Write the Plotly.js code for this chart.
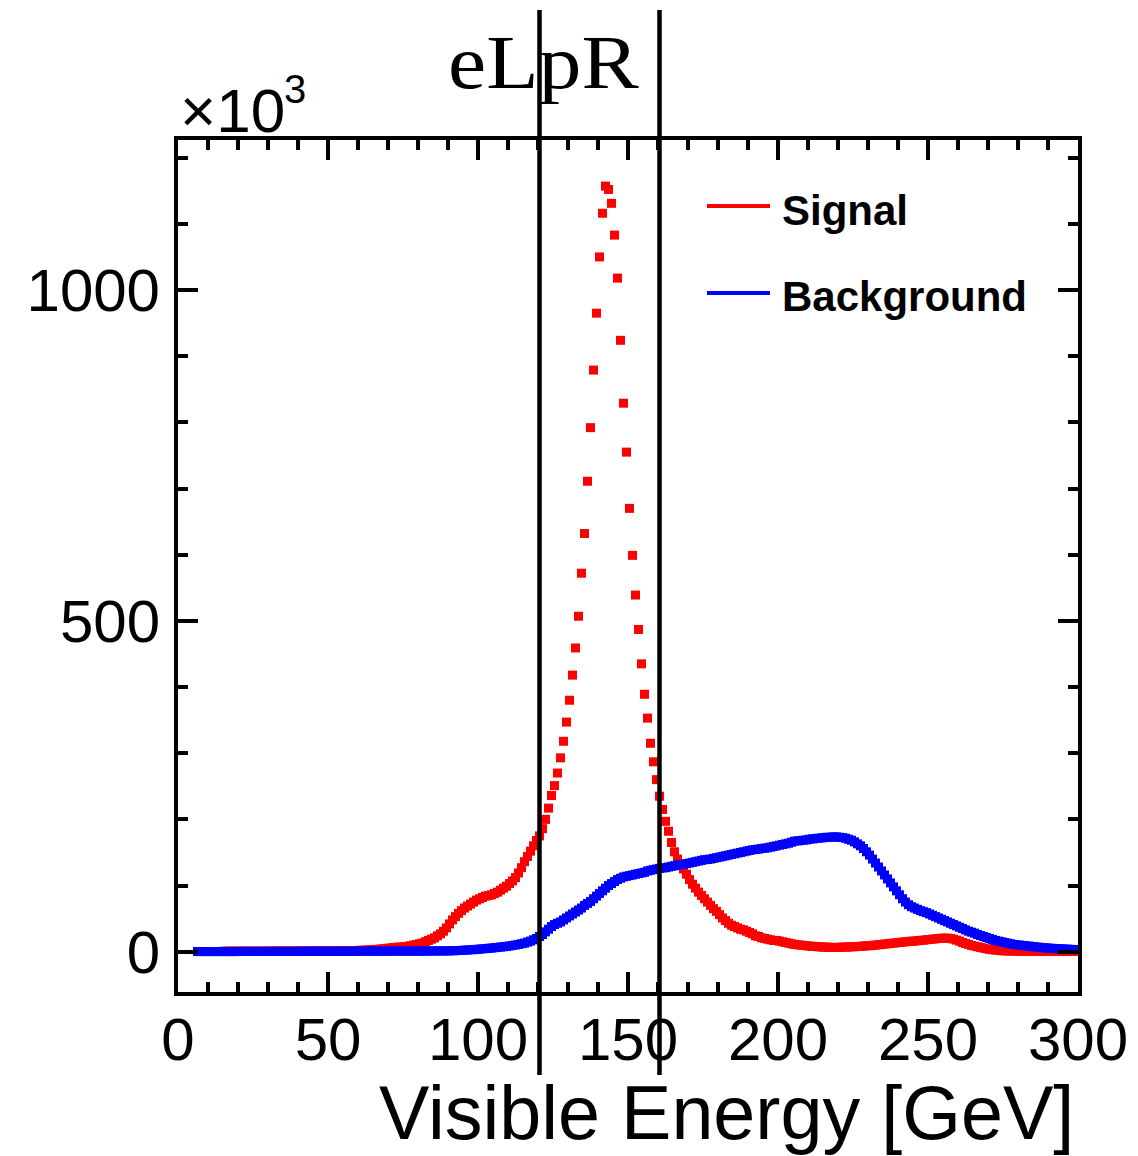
<!DOCTYPE html>
<html><head><meta charset="utf-8">
<script src="https://cdn.plot.ly/plotly-3.0.1.min.js"></script>
<style>html,body{margin:0;padding:0;background:#fff}</style>
</head><body>
<div id="chart" style="width:1138px;height:1156px"></div>
<script>
// 1 GeV bins; first filled bin is [6,7] GeV. Values in units of 10^3 events.
const firstBin = 6;
const binWidth = 1;

const signal = [
  0.3,0.3,0.3,0.3,0.3,0.3,0.3,0.3,0.3,
  0.8,0.8,0.8,0.8,0.8,0.8,0.8,0.8,0.8,0.8,0.8,0.8,0.8,0.8,0.8,
  1.0,1.0,1.0,1.0,1.0,1.0,1.0,1.0,1.0,1.0,1.0,1.0,1.0,1.0,1.0,
  1.2,1.2,1.2,1.2,1.2,1.2,1.2,1.2,1.2,1.2,
  1.6,1.6,1.6,1.6,1.6,
  2.2,2.2,2.4,2.6,2.8,
  3,3.5,4,4.5,5,
  5.5,6,6.5,7,7,
  7.5,8,9,10,11,
  12,13,15,17,19,
  21,24,27,31,36,
  42,48,53,58,62,
  66,69,72,75,78,
  80,82,84,85,86,
  88,90,93,96,99,
  103,107,112,119,127,
  136,144,152,160,168,
  175,186,200,217,236,251,270,293,318,347,
  380,418,459,507,572,632,711,792,879,965,
  1050,1116,1157,1152,1131,1083,1018,924,829,755,
  670,599,539,487,435,389,353,315,287,260,
  235,215,197,182,165,151,140,133,125,117,
  109,102,96,90,85,80,75,70,65,61,
  56,51,47,43,40,38,36,34,33,31,
  29,27,24,23,21,20,19,18,17,17,
  16,15,14,13,12,11,10.5,10,9.5,9,
  8.5,8,8,7.5,7,7,7,6.5,6.5,6.5,
  6.5,7,7,7,7.5,7.5,8,8,8.5,9,
  9,9.5,10,10.5,11,11.5,12,12.5,13,13.5,
  14,14.5,15,15.5,16,16,16.5,17,17.5,18,
  18.5,19,19.5,20,20.5,20.5,20.5,20,19,17.5,
  16,14,12.5,11,9.5,8.5,7.5,6.5,5.5,4.5,
  3.5,3,2.5,2,1.5,1.3,1.2,1.1,1,0.9,
  0.8,0.8,0.7,0.7,0.6,0.6,0.5,0.5,0.5,0.5,
  0.4,0.4,0.4,0.4,0.4,0.4,0.4,0.4,0.4,0.4
];

const background = [
  0.2,0.2,0.2,0.2,0.2,0.2,0.2,0.2,0.2,0.2,0.2,0.2,0.2,0.2,
  0.4,0.4,0.4,0.4,0.4,0.4,0.4,0.4,0.4,0.4,0.4,0.4,0.4,0.4,0.4,0.4,0.4,0.4,0.4,0.4,
  0.6,0.6,0.6,0.6,0.6,0.6,0.6,0.6,0.6,0.6,0.6,0.6,0.6,0.6,0.6,0.6,0.6,0.6,0.6,0.6,
  0.8,0.8,0.8,0.8,0.8,0.8,0.8,0.8,0.8,0.8,
  1.0,1.0,1.0,1.0,1.0,1.0,1.0,1.0,1.0,1.0,
  1.0,1.0,1.0,1.05,1.1,1.1,1.1,1.15,1.2,1.2,
  1.3,1.4,1.6,1.8,2.0,2.3,2.6,2.9,3.2,3.5,
  3.9,4.3,4.7,5.1,5.5,6,6.5,7,7.5,8,
  8.7,9.4,10.2,11,12,13,14.5,16,18,20,
  23,26,30,34,38,41,43,45,48,51,
  54,57,60,63,66,70,73,76,80,84,
  88,92,96,100,103,106,109,111,113,114,
  115,116,117,118,119,120,122,123,124,125,
  126,126.5,127,128,129,130,131,131.5,132,133,
  134,135,136,137,138,139,139.5,140,141,142,
  143,144,145,146,147,148,149,150,151,152,
  153,154,154.5,155,156,156.5,157,158,159,160,
  161,162,163,164,165.5,167,167.5,168,168.5,169,
  170,170.5,171,171.5,172,172.5,173,173,173.5,173.5,
  173,172.5,171.5,170,168.5,166,163,160,156,151,
  146,140,134,128,122,116,110,104,98,92,
  86,80,75,71,68,66,64,62,60.5,59,
  57,55,53,51,49,47,45,43,41,39,
  37,35,33,31,29.5,28,26,24.5,23,21.5,
  20,18.5,17,16,15,14,13,12,11,10.5,
  10,9.5,9,8.5,8,7.5,7,6.5,6,5.7,
  5.4,5.1,4.8,4.5,4.2,4,3.8,3.6,3.4,3.2
];

const cutValues = [120.5, 160.5];
const seriesNames = ["Signal", "Background"];
const seriesColors = ["#ff0000", "#0000ff"];
const plotTitle = "eLpR";
const xTitle = "Visible Energy [GeV]";
const yExponent = "×10";
const yExponentPower = "3";

function centers(arr) {
  return arr.map((_, i) => firstBin + (i + 0.5) * binWidth);
}

const traces = [
  {x: centers(signal), y: signal, name: seriesNames[0], type: 'scatter', mode: 'markers',
   marker: {symbol: 'square', size: 9, color: seriesColors[0], line: {width: 0}}, showlegend: false},
  {x: centers(background), y: background, name: seriesNames[1], type: 'scatter', mode: 'markers',
   marker: {symbol: 'square', size: 9, color: seriesColors[1], line: {width: 0}}, showlegend: false}
];

const sans = 'Liberation Sans, Arial, Helvetica, sans-serif';
const axisCommon = {
  showline: true, linewidth: 4, linecolor: '#000', mirror: 'ticks',
  ticks: 'inside', ticklen: 20, tickwidth: 4, tickcolor: '#000',
  showgrid: false, zeroline: false,
  tickfont: {family: sans, size: 60, color: '#000'}
};

const layout = {
  width: 1138, height: 1156,
  margin: {l: 178, r: 60, t: 140, b: 164},
  paper_bgcolor: '#fff', plot_bgcolor: '#fff',
  showlegend: false,
  xaxis: Object.assign({}, axisCommon, {
    range: [0, 300], tick0: 0, dtick: 50, ticklabelstandoff: -8,
    minor: {dtick: 10, ticklen: 10, tickwidth: 4, tickcolor: '#000', ticks: 'inside', showgrid: false}
  }),
  yaxis: Object.assign({}, axisCommon, {
    range: [-60.9, 1226.7], tick0: 0, dtick: 500, ticklabelstandoff: 2,
    minor: {dtick: 100, ticklen: 10, tickwidth: 4, tickcolor: '#000', ticks: 'inside', showgrid: false}
  }),
  shapes: cutValues.map(v => ({
    type: 'line', xref: 'x', yref: 'paper', x0: v, x1: v, y0: -0.0974, y1: 1.1526,
    line: {color: '#000', width: 4.5}, layer: 'above'
  })).concat([
    {type: 'line', xref: 'paper', yref: 'paper', x0: 0.5878, x1: 0.6578, y0: 0.9225, y1: 0.9225,
     line: {color: seriesColors[0], width: 4}},
    {type: 'line', xref: 'paper', yref: 'paper', x0: 0.5878, x1: 0.6578, y0: 0.8204, y1: 0.8204,
     line: {color: seriesColors[1], width: 4}}
  ]),
  annotations: [
    {text: plotTitle, xref: 'paper', yref: 'paper', x: 0.4056, y: 1.091, xanchor: 'center', yanchor: 'middle',
     showarrow: false, font: {family: 'Liberation Serif, Times New Roman, serif', size: 76, color: '#000'}},
    {text: yExponent, xref: 'paper', yref: 'paper', x: 0, y: 1.0346, xanchor: 'left', yanchor: 'middle',
     showarrow: false, font: {family: sans, size: 62, color: '#000'}},
    {text: yExponentPower, xref: 'paper', yref: 'paper', x: 0.1156, y: 1.0599, xanchor: 'left', yanchor: 'middle',
     showarrow: false, font: {family: sans, size: 40, color: '#000'}},
    {text: '<b>' + seriesNames[0] + '</b>', xref: 'paper', yref: 'paper', x: 0.669, y: 0.9178, xanchor: 'left', yanchor: 'middle',
     showarrow: false, font: {family: sans, size: 42, color: '#000'}},
    {text: '<b>' + seriesNames[1] + '</b>', xref: 'paper', yref: 'paper', x: 0.669, y: 0.8165, xanchor: 'left', yanchor: 'middle',
     showarrow: false, font: {family: sans, size: 42, color: '#000'}},
    {text: xTitle, xref: 'paper', yref: 'paper', x: 0.9978, y: -0.142, xanchor: 'right', yanchor: 'middle',
     showarrow: false, font: {family: sans, size: 75.5, color: '#000'}}
  ]
};

Plotly.newPlot('chart', traces, layout, {displayModeBar: false, staticPlot: true}).then(() => {
  const t = document.querySelector('g.annotation[data-index="0"] text.annotation-text');
  if (t) {
    t.style.transformBox = 'fill-box';
    t.style.transformOrigin = 'center';
    t.style.transform = 'scaleX(1.13)';
  }
});
</script>
</body></html>
